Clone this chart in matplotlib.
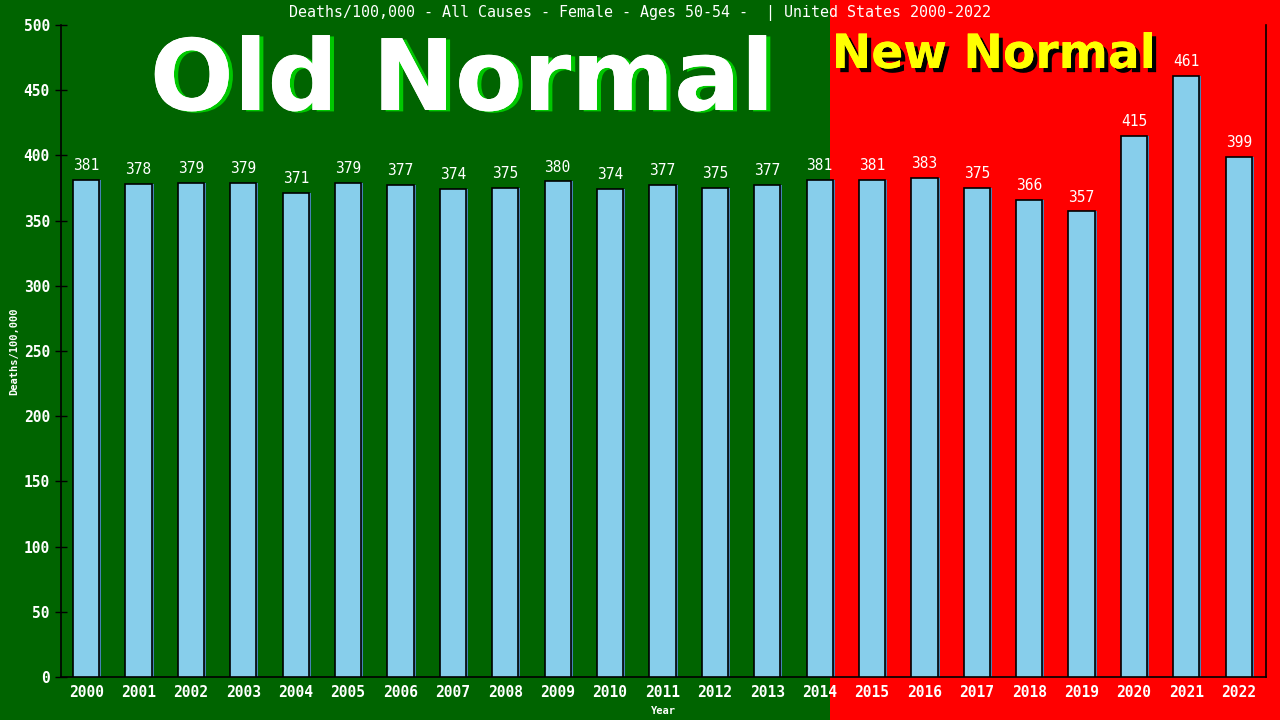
import matplotlib
matplotlib.use("Agg")
import matplotlib.pyplot as plt
import matplotlib.transforms as mtransforms
from matplotlib.patches import Rectangle
import matplotlib.patheffects as pe

years = [str(y) for y in range(2000, 2023)]
deaths = [381, 378, 379, 379, 371, 379, 377, 374, 375, 380, 374, 377,
          375, 377, 381, 381, 383, 375, 366, 357, 415, 461, 399]
y_ticks = list(range(0, 501, 50))

title = "Deaths/100,000 - All Causes - Female - Ages 50-54 -  | United States 2000-2022"
mono = "DejaVu Sans Mono"

fig = plt.figure(figsize=(12.8, 7.2), dpi=100, facecolor="#006400")
# red "new normal" region behind everything
fig.patches.append(Rectangle((830 / 1280, 0), 1 - 830 / 1280, 1,
                             transform=fig.transFigure, facecolor="#ff0000",
                             edgecolor="none", zorder=0))

ax = fig.add_axes([61 / 1280, 43 / 720, (1266 - 61) / 1280, (677 - 25) / 720])
ax.set_zorder(2)
ax.patch.set_alpha(0)

x = list(range(len(years)))
shadow = ax.transData + mtransforms.ScaledTranslation(2 / 100, 0, fig.dpi_scale_trans)
ax.bar(x, deaths, width=0.5, color="#4682b4", edgecolor="none",
       transform=shadow, zorder=2)
ax.bar(x, deaths, width=0.5, color="#87ceeb", edgecolor="black",
       linewidth=1.2, zorder=3)

for xi, v in zip(x, deaths):
    ax.annotate(str(v), (xi, v), xytext=(0, 5), textcoords="offset points",
                ha="center", va="bottom", color="white", fontsize=10.5,
                family=mono, zorder=4)

ax.set_xlim(-0.48, 22.52)
ax.set_ylim(0, 500)
ax.set_xticks(x)
ax.set_xticklabels(years)
ax.set_yticks(y_ticks)
ax.tick_params(axis="x", length=0, pad=6, labelsize=10.5, labelcolor="white")
ax.tick_params(axis="y", direction="inout", length=9, width=1,
               labelsize=10.5, labelcolor="white")
for lab in ax.get_xticklabels() + ax.get_yticklabels():
    lab.set_family(mono)
    lab.set_fontweight("bold")

ax.spines["top"].set_visible(False)
for s in ("left", "right", "bottom"):
    ax.spines[s].set_color("black")
    ax.spines[s].set_linewidth(1.2)

ax.set_xlabel("Year", color="white", fontsize=7.5, family=mono,
              fontweight="bold", labelpad=4)
ax.set_ylabel("Deaths/100,000", color="white", fontsize=7.5, family=mono,
              fontweight="bold", labelpad=3)

fig.text(0.5, 1 - 13 / 720, title, ha="center", va="center", color="white",
         fontsize=10.8, family=mono, zorder=5)

fig.text(462 / 1280, 1 - 110 / 720, "Old Normal", ha="center", va="baseline",
         color="white", fontsize=71, fontweight="bold", family="DejaVu Sans",
         path_effects=[pe.withSimplePatchShadow(offset=(3, -1),
                                                shadow_rgbFace="#00c800",
                                                alpha=1.0),
                       pe.Normal()], zorder=5)
fig.text(994 / 1280, 1 - 68 / 720, "New Normal", ha="center", va="baseline",
         color="#ffff00", fontsize=34, fontweight="bold", family="DejaVu Sans",
         path_effects=[pe.withSimplePatchShadow(offset=(3, -3),
                                                shadow_rgbFace="black",
                                                alpha=1.0),
                       pe.Normal()], zorder=5)

fig.savefig("out.png", dpi=100, facecolor=fig.get_facecolor())
